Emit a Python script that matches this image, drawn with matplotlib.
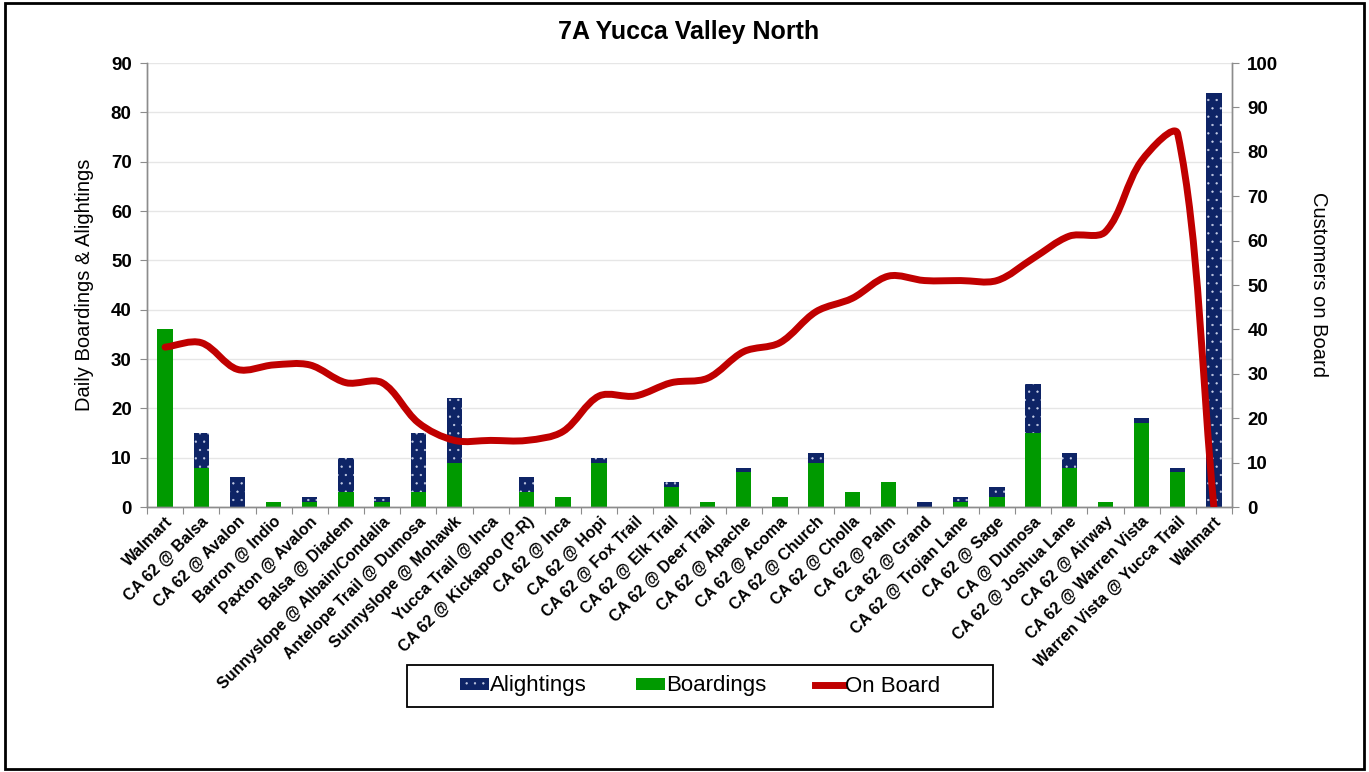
import matplotlib
matplotlib.use("Agg")
import matplotlib.pyplot as plt
from matplotlib.path import Path
from matplotlib.patches import PathPatch, Rectangle
from matplotlib.lines import Line2D
import numpy as np

plt.rcParams["font.family"] = ["Liberation Sans", "DejaVu Sans"]
plt.rcParams["hatch.linewidth"] = 0.4

stops = [
    "Walmart", "CA 62 @ Balsa", "CA 62 @ Avalon", "Barron @ Indio", "Paxton @ Avalon",
    "Balsa @ Diadem", "Sunnyslope @ Albain/Condalia", "Antelope Trail @ Dumosa",
    "Sunnyslope @ Mohawk", "Yucca Trail @ Inca", "CA 62 @ Kickapoo (P-R)", "CA 62 @ Inca",
    "CA 62 @ Hopi", "CA 62 @ Fox Trail", "CA 62 @ Elk Trail", "CA 62 @ Deer Trail",
    "CA 62 @ Apache", "CA 62 @ Acoma", "CA 62 @ Church", "CA 62 @ Cholla", "CA 62 @ Palm",
    "Ca 62 @ Grand", "CA 62 @ Trojan Lane", "CA 62 @ Sage", "CA @ Dumosa",
    "CA 62 @ Joshua Lane", "CA 62 @ Airway", "CA 62 @ Warren Vista",
    "Warren Vista @ Yucca Trail", "Walmart",
]
boardings = [36, 8, 0, 1, 1, 3, 1, 3, 9, 0, 3, 2, 9, 0, 4, 1, 7, 2, 9, 3, 5, 0, 1, 2, 15, 8, 1, 17, 7, 0]
alightings = [0, 7, 6, 0, 1, 7, 1, 12, 13, 0, 3, 0, 1, 0, 1, 0, 1, 0, 2, 0, 0, 1, 1, 2, 10, 3, 0, 1, 1, 84]
on_board = [36, 37, 31, 32, 32, 28, 28, 19, 15, 15, 15, 17, 25, 25, 28, 29, 35, 37, 44, 47, 52, 51, 51, 51, 56, 61, 62, 78, 84, 0]

green = "#009A00"
navy = "#0E2466"
red = "#C00000"
grey = "#8C8C8C"

W, H = 1369, 772
fig = plt.figure(figsize=(W / 100, H / 100), dpi=100)
ax = fig.add_axes([147 / W, 1 - 507 / H, (1232 - 147) / W, (507 - 63) / H])
ax2 = ax.twinx()

x = np.arange(len(stops))
ax.bar(x, boardings, width=0.42, color=green, linewidth=0, zorder=2)
ax.bar(x, alightings, width=0.42, bottom=boardings, color=navy, edgecolor="#C8D0E8",
       linewidth=0, hatch="..", zorder=2)

ax.set_ylim(0, 90)
ax.set_yticks(range(0, 91, 10))
ax.set_xlim(-0.5, len(stops) - 0.5)
ax.grid(axis="y", color="#E6E6E6", linewidth=1, zorder=0)
ax.set_axisbelow(True)

# x ticks sit on the category boundaries, labels at the centres
ax.set_xticks(np.arange(-0.5, len(stops), 1.0))
ax.set_xticklabels([])
ax.set_xticks(x, minor=True)
ax.set_xticklabels(stops, minor=True, rotation=45, ha="right", rotation_mode="anchor",
                   fontsize=11.5, fontweight="bold")
ax.tick_params(axis="x", which="major", length=5, color=grey, direction="out")
ax.tick_params(axis="x", which="minor", length=0, pad=5)
ax.tick_params(axis="y", length=5, color=grey, labelsize=13.5, pad=6)
for lab in ax.get_yticklabels():
    lab.set_fontweight("bold")

ax2.set_ylim(0, 100)
ax2.set_yticks(range(0, 101, 10))
ax2.tick_params(axis="y", length=5, color=grey, labelsize=13.5, pad=6)
for lab in ax2.get_yticklabels():
    lab.set_fontweight("bold")

for a in (ax, ax2):
    a.spines["top"].set_visible(False)
    for s in ("left", "right", "bottom"):
        a.spines[s].set_color(grey)
        a.spines[s].set_linewidth(1)

# smoothed on-board line: cubic Bezier through the stops, with tangents
# weighted by segment length in screen space so short hops don't overshoot
pts = ax2.transData.transform(np.column_stack([x, on_board]).astype(float))
n = len(pts)
verts = [pts[0]]
codes = [Path.MOVETO]
for i in range(n - 1):
    p0 = pts[max(i - 1, 0)]
    p1 = pts[i]
    p2 = pts[i + 1]
    p3 = pts[min(i + 2, n - 1)]
    d01 = np.hypot(*(p1 - p0))
    d12 = np.hypot(*(p2 - p1))
    d23 = np.hypot(*(p3 - p2))
    c1 = p1 + (p2 - p0) * d12 / (d01 + d12) / 3.0
    c2 = p2 - (p3 - p1) * d12 / (d12 + d23) / 3.0
    verts += [c1, c2, p2]
    codes += [Path.CURVE4] * 3
verts = ax2.transData.inverted().transform(np.array(verts))
ax2.add_patch(PathPatch(Path(verts, codes), facecolor="none", edgecolor=red,
                        linewidth=5, capstyle="round", joinstyle="round", zorder=3))

ax.set_ylabel("Daily Boardings & Alightings", fontsize=14.5, labelpad=12)
ax2.set_ylabel("Customers on Board", fontsize=14.5, rotation=-90, labelpad=36)

fig.text(689 / W, 1 - 32 / H, "7A Yucca Valley North", ha="center", va="center",
         fontsize=18, fontweight="bold")

handles = [
    Rectangle((0, 0), 1, 1, facecolor=navy, edgecolor="#C8D0E8", linewidth=0, hatch=".."),
    Rectangle((0, 0), 1, 1, facecolor=green, linewidth=0),
    Line2D([], [], color=red, linewidth=5),
]
fig.legend(handles, ["Alightings", "Boardings", "On Board"], ncol=3,
           loc="center", bbox_to_anchor=(700 / W, 1 - 686 / H),
           fontsize=16, frameon=False, handlelength=1.3, handleheight=0.45,
           handletextpad=0.05, columnspacing=2.2)
fig.patches.append(Rectangle((407 / W, 1 - 707 / H), (993 - 407) / W, 42 / H,
                             transform=fig.transFigure, fill=False,
                             edgecolor="black", linewidth=1.3))

fig.patches.append(Rectangle((0.004, 0.004), 0.992, 0.992, transform=fig.transFigure,
                             fill=False, edgecolor="black", linewidth=2))

fig.savefig("out.png", dpi=100)
